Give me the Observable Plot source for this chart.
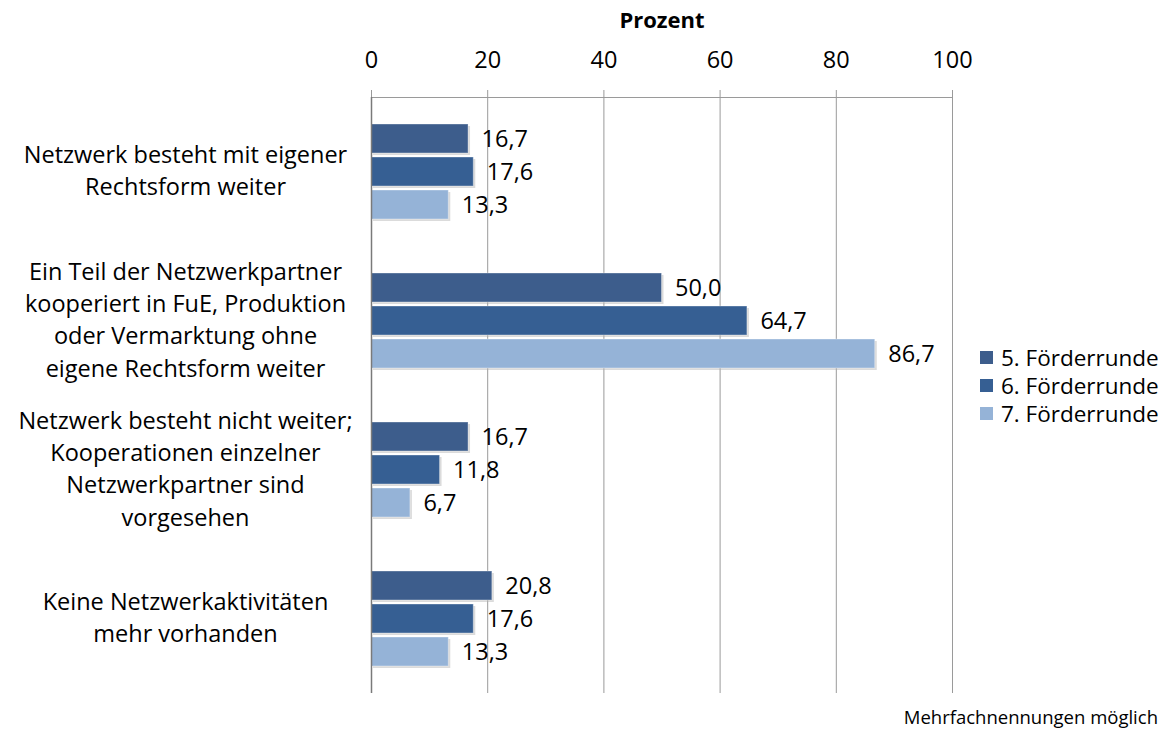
<!DOCTYPE html>
<html>
<head>
<meta charset="utf-8">
<script src="https://cdn.jsdelivr.net/npm/d3@7"></script>
<script src="https://cdn.jsdelivr.net/npm/@observablehq/plot@0.6"></script>
<style>
  html, body { margin: 0; padding: 0; background: #fff; }
  body { width: 1171px; height: 730px; position: relative; font-family: "Open Sans", sans-serif; overflow: hidden; }
  #legend { position: absolute; left: 980px; top: 343px; font-size: 22.5px; color: #000; }
  #legend .item { display: flex; align-items: center; height: 28px; }
  #legend .sw { width: 13px; height: 13px; margin-right: 8px; }
  #caption { position: absolute; right: 13px; top: 704px; font-size: 18.5px; color: #000; }
</style>
</head>
<body>
<div id="chart"></div>
<div id="legend"></div>
<div id="caption">Mehrfachnennungen möglich</div>
<script>
const categories = [
  "Netzwerk besteht mit eigener\nRechtsform weiter",
  "Ein Teil der Netzwerkpartner\nkooperiert in FuE, Produktion\noder Vermarktung ohne\neigene Rechtsform weiter",
  "Netzwerk besteht nicht weiter;\nKooperationen einzelner\nNetzwerkpartner sind\nvorgesehen",
  "Keine Netzwerkaktivitäten\nmehr vorhanden"
];
const series = ["5. Förderrunde", "6. Förderrunde", "7. Förderrunde"];
const values5 = [16.7, 50.0, 16.7, 20.8];
const values6 = [17.6, 64.7, 11.8, 17.6];
const values7 = [13.3, 86.7, 6.7, 13.3];
const xTicks = [0, 20, 40, 60, 80, 100];
const colors = ["#3d5d8c", "#365f93", "#95b3d7"];
const axisTitle = "Prozent";

const seriesValues = [values5, values6, values7];
const rows = [];
categories.forEach((c, i) => {
  series.forEach((s, j) => rows.push({category: c, series: s, value: seriesValues[j][i]}));
});
const fmt = v => d3.format(".1f")(v).replace(".", ",");

const chart = Plot.plot({
  width: 1171,
  height: 700,
  marginTop: 95,
  marginBottom: 6,
  marginLeft: 371,
  marginRight: 219,
  style: {fontFamily: "'Open Sans', sans-serif", fontSize: "23px", color: "#000", background: "#fff"},
  x: {domain: [0, 100], ticks: xTicks},
  y: {domain: series, paddingInner: 0.118, paddingOuter: 0.764, axis: null},
  fy: {domain: categories, padding: 0, label: null},
  color: {domain: series, range: colors},
  marks: [
    Plot.gridX(xTicks.slice(1), {stroke: "#9a9a9a", strokeOpacity: 1, strokeWidth: 1}),
    Plot.frame({anchor: "top", facetAnchor: "top", stroke: "#9a9a9a"}),
    Plot.axisX(xTicks, {anchor: "top", tickSize: 8, tickPadding: 22, stroke: "#9a9a9a", label: null, fill: "#000", fontSize: 23.5}),
    Plot.text([axisTitle], {frameAnchor: "top", dy: -85, fontWeight: "bold", fontSize: 22, facetAnchor: "top"}),
    Plot.barX(rows, {x: "value", y: "series", fy: "category", fill: "#b0b0b0", fillOpacity: 0.45, dx: 2, dy: 2}),
    Plot.barX(rows, {x: "value", y: "series", fy: "category", fill: "series", stroke: "#ffffff", strokeOpacity: 0.35, strokeWidth: 1}),
    Plot.ruleX([0], {stroke: "#7a7a7a", strokeWidth: 1.5}),
    Plot.text(rows, {x: "value", y: "series", fy: "category", text: d => fmt(d.value), textAnchor: "start", dx: 13, fontSize: 23.5}),
    Plot.axisFy({anchor: "left", tickSize: 0, tickPadding: 0, textAnchor: "middle", dx: -186, dy: -3, label: null, lineHeight: 1.37, fontSize: 23.5})
  ]
});
document.getElementById("chart").appendChild(chart);

const legend = document.getElementById("legend");
series.forEach((s, j) => {
  const item = document.createElement("div");
  item.className = "item";
  const sw = document.createElement("div");
  sw.className = "sw";
  sw.style.background = colors[j];
  const t = document.createElement("span");
  t.textContent = s;
  item.appendChild(sw);
  item.appendChild(t);
  legend.appendChild(item);
});
</script>
</body>
</html>
